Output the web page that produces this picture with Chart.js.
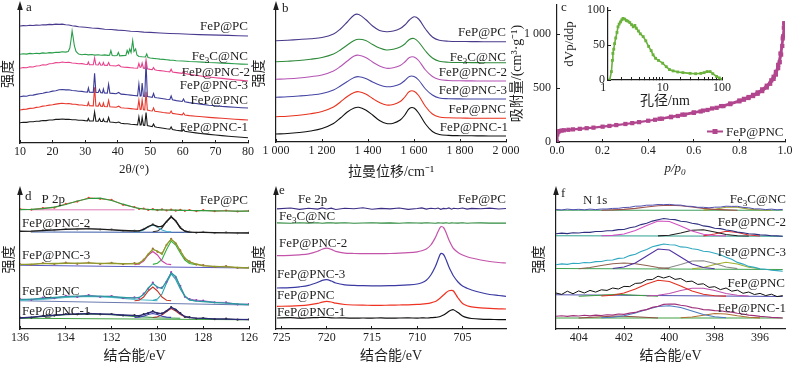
<!DOCTYPE html>
<html>
<head>
<meta charset="utf-8">
<script src="https://cdn.jsdelivr.net/npm/chart.js@4.4.1/dist/chart.umd.min.js"></script>
<style>
  body { margin: 0; background: #fff; width: 800px; height: 366px; position: relative; overflow: hidden; }
  canvas { position: absolute; }
</style>
</head>
<body>
<canvas id="ca"></canvas>
<canvas id="cb"></canvas>
<canvas id="cc"></canvas>
<canvas id="ci"></canvas>
<canvas id="cd"></canvas>
<canvas id="ce"></canvas>
<canvas id="cf"></canvas>
<script>
// ---------- a: XRD (2theta, stacked intensity) ----------
const xrdTicks = [10, 20, 30, 40, 50, 60, 70, 80];
const xrdPC = [[10,117],[11,117.4],[12,117.2],[13,117.7],[14,117.5],[15,117.9],[16,117.8],[17,118.3],[18,118.1],[19,118.6],[20,118.4],[21,118.9],[22,118.6],[23,118.9],[24,118.3],[25,118],[26,117.2],[27,116.9],[28,116.2],[30,115.8],[32,115],[34,114.6],[36,113.8],[38,113.5],[40,112.9],[42,112.5],[44,111.8],[46,111.5],[48,110.9],[50,110.6],[53,110],[56,109.5],[59,109.2],[62,108.7],[65,108.4],[68,108.1],[71,107.9],[74,107.6],[77,107.3],[80,107]];
const xrdFe3C = [[10,88.7],[11,89.3],[12,88.9],[13,89.6],[14,89.2],[15,89.8],[16,89.4],[17,90.1],[18,89.7],[19,90.4],[20,90.1],[21,90.8],[22,90.6],[23,91.3],[24,90.9],[24.8,91.5],[25.3,95],[25.7,104],[26,112],[26.3,106],[26.7,97],[27.2,91.5],[28,88.9],[29,88.3],[30,88.7],[31,88.1],[32,88.5],[33,87.9],[34,88.3],[35,87.8],[36,88.1],[37,87.6],[37.5,87.8],[37.9,92.5],[38.3,87.5],[39,87.3],[39.8,87.5],[40.2,90.5],[40.6,87.2],[41.5,87.4],[42.5,87.5],[42.9,92.5],[43.3,89.5],[43.7,94],[44.1,90.5],[44.6,102.5],[45.0,91.5],[45.5,94],[45.9,88],[46.5,86.5],[47.5,86.2],[48.5,86],[48.9,89],[49.3,85.5],[50,85],[51,84.6],[52,84.3],[53,83.9],[54,83.6],[55,83.3],[56,82.9],[57,82.7],[58,82.3],[60,82],[62,81.5],[64,81.2],[66,80.9],[68,80.5],[70,80.3],[72,79.9],[74,79.6],[76,79.2],[78,78.9],[80,78.7]];
const xrdPNC2 = [[10,74.7],[11,75.5],[12,75.2],[13,76.3],[14,76],[15,77],[16,77.2],[17,78.3],[18,78],[19,79.2],[20,79.5],[21,80.4],[22,80.3],[23,81],[24,80.5],[25,80.8],[26,80],[27,79.8],[28,79.2],[29,79.4],[30,78.8],[30.7,78.5],[31,81],[31.3,78.4],[32.5,78.2],[32.9,85],[33.3,78.2],[34,78],[34.4,80.5],[34.8,77.8],[35.3,78],[35.6,80.5],[35.9,77.8],[36.8,77.6],[37.2,80.5],[37.6,77.5],[38.5,77.3],[39.5,77],[40.3,78],[41,76.2],[42,75.8],[43,75.6],[44,75.3],[45,75],[46.1,74.8],[46.5,79.5],[46.9,75.5],[47.2,76],[47.5,80],[47.9,74.8],[48.3,74.6],[48.7,83],[49.1,74.3],[50,73.6],[50.6,73.4],[51,75.5],[51.4,73.2],[52,72.8],[53,72.4],[54,72],[55,71.5],[56,71.2],[56.4,73.8],[56.8,71],[58,70.4],[59.8,69.6],[60.2,71.8],[60.6,69.4],[62,68.6],[64,67.7],[66,66.8],[68,66],[70,65.3],[72,64.6],[74,63.9],[76,63.2],[78,62.6],[80,62]];
const xrdPNC3 = [[10,46.3],[11,46.9],[12,46.8],[13,47.7],[14,47.9],[15,48.6],[16,49.3],[17,49.8],[18,50.6],[19,51],[20,51.9],[21,52.3],[22,53.2],[23,53.5],[24,53.1],[25,53.2],[26,52.5],[27,52.3],[28,51.7],[29,51.6],[30,51],[30.7,50.9],[31,55],[31.3,50.8],[32.5,50.6],[32.9,69.7],[33.3,50.6],[34,50.5],[34.4,53.5],[34.8,50.3],[35.3,50.2],[35.6,54],[35.9,50.1],[36.8,49.9],[37.2,58.7],[37.6,49.8],[38.5,49.6],[39.5,49.2],[40.3,50.5],[41,48.9],[42,48.6],[43,48.3],[44,47.9],[45,47.5],[46.1,47.1],[46.5,59],[46.9,47],[47.2,47.2],[47.5,60],[47.9,46.8],[48.3,46.6],[48.7,81],[49.1,46.4],[50,46],[50.6,45.7],[51,49.5],[51.4,45.5],[52,45.2],[53,44.8],[54,44.3],[55,43.8],[56,43.5],[56.4,47],[56.8,43.2],[58,42.4],[59.8,41.5],[60.2,44],[60.6,41.2],[62,40.4],[64,39.5],[66,38.6],[68,37.8],[70,37.3],[72,36.6],[74,36.1],[76,35.7],[78,35.3],[80,35]];
const xrdPNC = [[10,33],[11,33.6],[12,33.9],[13,34.6],[14,34.8],[15,35.6],[16,36],[17,36.9],[18,37.2],[19,37.9],[20,38.3],[21,38.9],[22,39.4],[23,39.7],[24,39.3],[25,39.5],[26,38.9],[27,38.7],[28,38.1],[29,38],[30,37.5],[30.7,37.3],[31,40.5],[31.3,37.2],[32.5,37.1],[32.9,55.7],[33.3,37],[34,36.9],[34.4,40],[34.8,36.7],[35.3,36.6],[35.6,40],[35.9,36.5],[36.8,36.3],[37.2,42.5],[37.6,36.2],[38.5,36],[39.5,35.7],[40.3,36.8],[41,35.3],[42,35],[43,34.8],[44,34.4],[45,34],[46.1,33.6],[46.5,43],[46.9,33.4],[47.2,33.6],[47.5,43],[47.9,33.2],[48.3,33.1],[48.7,51.3],[49.1,32.9],[50,32.3],[50.6,32],[51,35],[51.4,31.8],[52,31.5],[53,31],[54,30.5],[55,30.1],[56,29.8],[56.4,32],[56.8,29.6],[58,29],[59.8,28.2],[60.2,30],[60.6,28],[62,27.4],[64,26.8],[66,26.2],[68,25.6],[70,25.1],[72,24.7],[74,24.2],[76,23.8],[78,23.4],[80,23]];
const xrdPNC1 = [[10,20.3],[11,20.8],[12,20.6],[13,21.3],[14,21.2],[15,21.7],[16,21.9],[17,22.5],[18,22.4],[19,23],[20,23],[21,23.6],[22,23.6],[23,24],[24,23.6],[25,23.8],[26,23.3],[27,23.2],[28,22.8],[29,22.8],[30,22.4],[30.7,22.2],[31,24.5],[31.3,22.1],[32.5,22],[32.9,31],[33.3,21.9],[34,21.8],[34.4,24.5],[34.8,21.6],[35.3,21.5],[35.6,24],[35.9,21.4],[36.8,21.1],[37.2,25.5],[37.6,21],[38.5,20.7],[39.5,20.3],[40.3,21],[41,19.7],[42,19.4],[43,19.2],[44,18.8],[45,18.5],[46.1,18.1],[46.5,26],[46.9,18],[47.2,18.2],[47.5,25.5],[47.9,17.8],[48.3,17.6],[48.7,30.5],[49.1,17.4],[50,16.8],[50.6,16.4],[51,19],[51.4,16.2],[52,15.8],[53,15.3],[54,14.8],[55,14.2],[56,13.8],[56.4,16],[56.8,13.5],[58,12.8],[59.8,11.9],[60.2,13.5],[60.6,11.7],[62,11],[64,10.1],[66,9.3],[68,8.6],[70,8],[72,7.4],[74,6.8],[76,6.3],[78,5.8],[80,5.3]];

// ---------- b: Raman ----------
const ramanTicks = [1000, 1200, 1400, 1600, 1800, 2000];
const ramanLabels = ['1 000', '1 200', '1 400', '1 600', '1 800', '2 000'];
const ramanShift = [1000,1050,1100,1150,1200,1250,1280,1310,1340,1360,1390,1420,1450,1480,1510,1540,1560,1580,1600,1620,1650,1680,1710,1750,1800,1850,1900,1950,2000];
const ramanPC = [101.3,101.8,102.5,103.3,104.5,108,113,120,127,127.5,122.5,116,111.5,110.3,111,113.5,117,122,125.3,123,113,105,101.8,100.8,100.5,100.4,100.3,100.3,100.3];
const ramanFe3C = [80.3,80.8,81.5,82.8,84.5,88,92,97,101.5,102.7,101.5,97.5,94,92,92.8,95,98,102.5,103.5,100,91,84,80.8,79.8,79.5,79.4,79.3,79.3,79.3];
const ramanPNC2 = [62.7,63.2,64,65.3,67,71,75.5,81,86,86.8,84.5,80,76,73.7,74.2,76.5,80,84.5,85,81.5,72,65.5,62.5,61.5,61.2,61.1,61,61,61];
const ramanPNC3 = [44.7,45.2,46,47,48.5,52,56,60.5,64.5,65.3,63.5,60,57,55.3,55.8,58,61.5,65.5,65.5,62,53,47,44,43.3,43.1,43,43,43,43];
const ramanPNC = [25.3,25.8,26.8,28.3,30.5,35,40,45.5,49.5,50.3,48,43.5,39.5,37,37.5,40.5,45,50.5,50.8,46.5,35.5,28,25,24.2,24,23.8,23.7,23.7,23.7];
const ramanPNC1 = [8,8.5,9.5,11,13.5,18.5,24,30,34,34.7,32,27,21.5,18.5,18.8,22,27,33.5,34,29,18,10.5,7.5,6.6,6.3,6.2,6.1,6,6];

// ---------- c: N2 isotherm + pore size inset ----------
const isoTicks = [0, 0.2, 0.4, 0.6, 0.8, 1.0];
const isoLabels = ['0.0', '0.2', '0.4', '0.6', '0.8', '1.0'];
const isoYTicks = [0, 500, 1000];
const isoYLabels = ['0', '500', '1 000'];
const isoAds = [[0,0],[0.001,70],[0.003,90],[0.006,97],[0.01,101],[0.02,106],[0.03,109],[0.05,113],[0.07,117],[0.1,122],[0.13,128],[0.16,133],[0.2,142],[0.23,149],[0.26,157],[0.3,167],[0.33,175],[0.36,184],[0.4,197],[0.43,206],[0.46,216],[0.5,230],[0.53,241],[0.56,253],[0.6,270],[0.63,283],[0.66,297],[0.7,317],[0.73,333],[0.76,351],[0.8,377],[0.82,392],[0.84,408],[0.86,426],[0.88,447],[0.9,472],[0.92,505],[0.935,540],[0.95,585],[0.96,625],[0.97,685],[0.977,740],[0.983,810],[0.988,890],[0.992,980],[0.995,1060],[0.997,1100]];
const isoDes = [[0.997,1100],[0.99,960],[0.98,820],[0.97,715],[0.96,650],[0.95,605],[0.94,572],[0.92,522],[0.9,488],[0.88,460],[0.86,437],[0.84,417],[0.82,400],[0.8,385],[0.76,357],[0.72,333],[0.68,311],[0.64,291],[0.6,274],[0.55,254],[0.5,234],[0.45,215]];
const poreTicks = [1,2,3,4,5,6,7,8,9,10,20,30,40,50,60,70,80,90,100];
const poreLabels = ['1','','','','','','','','','10','','','','','','','','','100'];
const poreYTicks = [0, 50, 100];
const poreYLabels = ['0', '50', '100'];
const poreDist = [[1.28,0],[1.37,12],[1.42,28],[1.45,38],[1.5,44],[1.55,52],[1.62,60],[1.7,68],[1.77,76],[1.85,80],[1.95,83],[2.05,86],[2.15,88],[2.3,87],[2.45,85],[2.6,84],[2.8,82],[3.0,79],[3.2,76],[3.4,78],[3.6,74],[3.9,70],[4.2,66],[4.7,62],[5.2,56],[5.8,48],[6.4,42],[6.9,36],[7.6,31],[8.5,28],[10,24],[11.5,19],[13,15],[15,13],[18,11.5],[22,10.5],[29,9.5],[36,9],[44,9.5],[50,10.5],[56,12],[63,12],[70,9],[81,5],[90,3],[100,1]];

// ---------- d: P 2p XPS ----------
const pTicks = [136, 134, 132, 130, 128, 126];
const bindP = [136,135.5,135,134.5,134,133.5,133,132.5,132,131.5,131,130.8,130.6,130.4,130.2,130,129.8,129.6,129.4,129.2,129,128.8,128.6,128.3,128,127.5,127,126.5,126];
const p2pPCfit = [119.4,119.7,120.3,121.8,124.5,128,130.5,130.8,128.5,124.8,121.5,120.6,120,119.6,119.4,119.2,119.1,119,118.9,118.8,118.7,118.6,118.5,118.4,118.3,118.2,118,117.9,117.8];
const p2pPCraw = [119.9,119.3,120.9,121.3,125.2,127.4,131.2,130.2,129.1,124.2,121.9,120.1,120.5,119.1,119.9,118.8,119.6,118.6,119.4,118.3,119.2,118.2,119,117.9,118.8,117.8,118.5,117.5,118.2];
const p2pPCbase = [[135.5,119.2],[131,119.2]];
const p2pPNC2fit = [97.7,97.9,98.4,99.1,99.7,100.1,100.2,99.9,99.2,98.5,98,98.2,99.6,102.5,104.4,102.6,102.4,107.5,112.3,108.2,101.3,97.8,96.9,96.7,96.6,96.4,96.2,96.1,96];
const p2pPNC2raw = [98.2,97.4,98.9,98.6,100.2,99.5,100.8,99.4,99.7,98,98.5,97.8,100.1,102,104.9,102.1,103,107,112.9,107.6,101.9,97.3,97.5,96.2,97.1,95.9,96.7,95.7,96.4];
const p2pPNC2c1 = [[131,97.1],[130.8,97.5],[130.6,99.1],[130.4,102],[130.2,104],[130,102],[129.8,99.1],[129.6,97.5],[129.4,97.1]];
const p2pPNC2c2 = [[130.2,97.2],[130,97.9],[129.8,101],[129.6,107.5],[129.4,112],[129.2,108],[129,101],[128.8,97.9],[128.6,97.2]];
const p2pPNC2base = [[135.5,97],[128.5,96.6]];
const p2pPNC3fit = [64.3,64.8,65.3,65.5,65.6,65.8,65.8,65.7,65.5,65.3,65.2,65.9,68.9,75,79.5,78,74.8,84.5,89.5,86,78,71,67,65,63.2,62.7,62.2,61.6,61];
const p2pPNC3raw = [64.8,64.2,65.9,65,66.3,65.2,66.4,65.1,66.1,64.8,65.8,65.4,69.5,74.4,80.3,77.2,75.6,84,90.2,85.4,78.7,70.5,67.6,64.4,63.9,62.1,62.8,61.1,61.5];
const p2pPNC3c1 = [[131,64.4],[130.8,65],[130.6,68],[130.4,74],[130.2,77.5],[130,74],[129.8,68],[129.6,65],[129.4,64.4]];
const p2pPNC3c2 = [[130.2,64.6],[130,65.8],[129.8,69.5],[129.6,79.5],[129.4,88],[129.2,84],[129,76],[128.8,69],[128.6,65.5],[128.3,64.2]];
const p2pPNC3base = [[136,63.8],[126,61]];
const p2pPNCfit = [29.3,29.9,30.6,31.5,32.3,32.8,33,32.8,32.3,31.5,30.8,31.5,34.5,41,45.5,42,40.5,48,56,52.5,42,33,29,27.8,27.5,26.5,25.8,25,24.3];
const p2pPNCraw = [29.9,29.2,31.4,30.8,33.1,32.1,33.9,32.2,33,30.9,31.6,30.9,35.3,40.2,46.4,41.3,41.4,47.2,56.8,51.7,43.1,32.2,30,28.8,28.3,26.7,26.6,24.6,25];
const p2pPNCc1 = [[131,28.2],[130.8,28.8],[130.6,32],[130.4,38],[130.2,42],[130,38],[129.8,32],[129.6,28.8],[129.4,28.2]];
const p2pPNCc2 = [[130.2,28.5],[130,30],[129.8,35],[129.6,46],[129.4,55],[129.2,49.5],[129,40],[128.8,32.5],[128.6,29],[128.3,28]];
const p2pPNChump = [[136,28.6],[135,29.6],[134,31.5],[133,32.6],[132,31.6],[131,29.5],[130,28.4]];
const p2pPNCbase = [[136,28.2],[126,24]];
const p2pPNC1fit = [11,11.8,12.8,13.8,14.6,15.1,15.3,15.1,14.6,14,13.4,13.4,14.3,16.2,17.3,16,15.2,18.3,21.5,19.7,15.5,12.5,11.4,10.9,10.6,10.2,9.9,9.6,9.3];
const p2pPNC1raw = [11.4,11.3,13.2,13.4,15,14.7,15.8,14.7,15,13.5,13.8,13,14.8,15.8,17.8,15.6,15.6,17.9,22,19.2,16,12.1,11.8,10.5,11,9.8,10.3,9.3,9.7];
const p2pPNC1c1 = [[131,11.6],[130.8,11.9],[130.6,12.8],[130.4,14.5],[130.2,15.5],[130,14.5],[129.8,12.8],[129.6,11.9],[129.4,11.6]];
const p2pPNC1c2 = [[130.2,11.5],[130,12.2],[129.8,14],[129.6,17.5],[129.4,20.5],[129.2,18],[129,14.5],[128.8,12.3],[128.6,11.4]];
const p2pPNC1hump = [[136,10.8],[135,12.5],[134,14.2],[133,15],[132,14.3],[131,12.6],[130,11.3],[129,10.8]];
const p2pPNC1base = [[136,10.8],[126,9.2]];

// ---------- e: Fe 2p XPS ----------
const feTicks = [725, 720, 715, 710, 705];
const bindFe = [725.5,724,723,722,721,720.5,720,719.5,719,718,717,716,715,714,713,712,711,710,709.5,709,708.5,708,707.7,707.4,707.1,706.8,706.5,706.2,706,705.5,705,704.5,704,703,702,701,700.2];
const fe2pPC = [120.1,121,119.6,120.8,119.9,121.1,120,120.9,119.5,120.7,120.2,121.2,119.8,120.6,120.1,121,119.6,120.5,121.1,119.9,120.8,120.3,121,119.7,120.6,120.2,121.1,119.8,120.7,120.3,121,119.9,120.6,120.2,120.9,120,120.5];
const fe2pFe3C = [106.1,105.8,106.3,105.9,106.2,105.8,106.1,106.3,105.9,106.2,105.8,106,106.3,105.9,106.1,105.8,106.2,106,105.9,106.3,106,105.8,106.1,106,105.9,106.2,105.8,106.1,106,105.9,106.2,105.8,106,106.1,105.9,106,105.9];
const fe2pPNC2 = [73.3,73.6,74.2,75.2,77.8,79.8,80.8,79.6,77.6,75.9,75.5,75.4,75.3,75.3,75.5,75.8,76.3,77.2,78.2,80,84,91.5,97.5,102.3,101.5,96,89,83.5,80.5,76.5,74,72.3,71,69,67.5,66.5,66];
const fe2pPNC3 = [41,41.4,42.2,43.6,46.6,48.6,49.3,48,46,44.2,43.6,43.3,43.2,43.2,43.3,43.6,44.1,45,46.3,48.8,54,62.5,69.5,75.5,74.5,69,62,56.5,53,47,43,40.8,39,36.5,34.5,33.5,32.7];
const fe2pPNC = [22.7,22.9,23.3,24.1,25.6,26.9,27.6,27,25.8,24.5,24,23.8,23.7,23.7,23.8,24,24.2,24.6,24.9,25.4,26.2,27.5,29.3,31.5,34,36.5,38.2,38.7,38,31,25.5,23.3,22.2,21.2,20.6,20.2,20];
const fe2pPNC1 = [11,11.3,10.8,11.2,11.4,11.6,11.5,11.2,11,11.1,10.8,11,10.9,11.1,10.8,11,11.1,10.9,11.1,11,11.3,11.6,12,12.8,14,15.8,17.8,19,19.3,16.5,13,11.3,10.5,9.9,9.6,9.4,9.3];

// ---------- f: N 1s XPS ----------
const nTicks = [404, 402, 400, 398, 396];
const bindN = [405,404.75,404.5,404.25,404,403.75,403.5,403.25,403,402.75,402.5,402.25,402,401.75,401.5,401.25,401,400.75,400.5,400.25,400,399.75,399.5,399.25,399,398.75,398.5,398.25,398,397.75,397.5,397.25,397,396.75,396.5,396.25,396,395.75,395.5,395.25,395];
const n1sFe3C = [119.5,119.1,119.9,119.3,119.7,119.2,119.9,119.4,120,120,120.6,120.7,121.5,121.7,122.8,122.9,123.8,123.8,124.5,124.3,124.6,124,123.9,122.8,122.6,121.7,121.7,121.2,121.8,121.9,122.8,122.6,122.7,121.6,121.2,120.1,120.1,119.4,119.9,119.2,119.6];
const n1sPNC2 = [95.3,95.9,95.4,96.3,96,96.8,96.6,97.5,97.5,98.3,98.4,99.4,99.5,101.3,102.3,104.4,105.8,107.9,109.3,110.5,109.7,109.4,107.8,107.3,105.8,104.9,103.1,102.4,100.8,100.4,99,98.3,96.9,96.3,95.2,94.9,94.1,93.9,93.2,93.1,92.7];
const n1sPNC3 = [64.3,65.1,64.6,65.7,65.5,66.5,66.3,67.4,67.5,68.8,69,70.6,71,73.4,74.8,77.6,79.6,82.2,83.6,85,84.2,84,82.1,81.7,80.3,79.5,77.8,77.2,75.7,74.3,71.8,69.7,66.6,64.9,62.6,61.6,60.1,59.7,58.8,58.4,57.7];
const n1sPNC = [36,34.6,37.8,35.2,38.1,36,38.6,36.9,39.2,38.6,41,40,42.6,42.4,45.6,46,49.2,49.5,52.8,51,52.7,49.6,50.5,47.3,47.9,44.6,45.2,41.6,42.3,39.4,41,37.8,38.9,35.7,37,34.5,35.6,33.4,34.8,32.4,33.4];
const n1sPNC1 = [12.7,13.3,12.6,13.4,13,13.7,13.1,13.9,13.5,14.3,13.9,15,14.6,15.9,16.6,18.4,19.4,21.6,22.8,24.6,25,24.9,23.8,23,21.4,20.7,19.4,19.1,18.4,18.2,17.3,16.9,15.8,15,13.9,13.4,12.6,12.3,11.6,11.4,11];
const n1sFe3Cc1 = [[403,118.8],[402.5,119.1],[402,119.6],[401.5,120.6],[401,122],[400.5,123.3],[400,123.8],[399.5,123.3],[399,122],[398.5,120.6],[398,119.6],[397.5,119.1],[397,118.8]];
const n1sFe3Cc2 = [[398.5,118.9],[398,119.8],[397.5,121.7],[397,121.8],[396.5,119.9],[396,119],[395.5,118.8]];
const n1sFe3Cbase = [[405,118.8],[395,118.8]];
const n1sPNC2c1 = [[403,93.2],[402.5,93.6],[402,95],[401.5,98.5],[401,103.5],[400.5,108],[400,107.5],[399.5,103],[399,98],[398.5,94.8],[398,93.5],[397.5,93.1]];
const n1sPNC2c2 = [[400.5,93.1],[400,93.8],[399.5,96],[399,98.7],[398.5,99.2],[398,97],[397.5,94.5],[397,93.3],[396.5,93]];
const n1sPNC2c3 = [[398.5,93.1],[398,95],[397.5,97.7],[397,96.5],[396.5,94],[396,93]];
const n1sPNC2base = [[405,93.2],[395,92.8]];
const n1sPNC3c1 = [[402.5,60.5],[402,62],[401.5,66],[401,73],[400.5,80],[400,79],[399.5,72],[399,65],[398.5,61.5],[398,60.2]];
const n1sPNC3c2 = [[404,60.3],[403.5,61.5],[403,63.5],[402.5,65.3],[402,66],[401.5,65.3],[401,63.5],[400.5,61.5],[400,60.3]];
const n1sPNC3c3 = [[400.5,60.3],[400,61.5],[399.5,64.5],[399,68],[398.5,68.3],[398,65.5],[397.5,62],[397,60.4]];
const n1sPNC3c4 = [[399,60.2],[398.5,61.5],[398,64.5],[397.5,66.7],[397,65],[396.5,61.8],[396,60.3]];
const n1sPNC3base = [[405,60.5],[395,59.5]];
const n1sPNCc1 = [[403,33],[402.5,33.8],[402,36],[401.5,40],[401,45],[400.5,48.7],[400,47.5],[399.5,43],[399,38],[398.5,34.8],[398,33.3],[397.5,32.9]];
const n1sPNCc2 = [[401,33],[400.5,33.8],[400,35.5],[399.5,38.5],[399,40.8],[398.5,40.7],[398,38.5],[397.5,35.5],[397,33.7],[396.5,33]];
const n1sPNCc3 = [[404,32.8],[403,33.8],[402.3,34.8],[401.5,33.8],[400.5,32.8]];
const n1sPNCbase = [[405,34.3],[395,32.5]];
const n1sPNC1c1 = [[403,11.2],[402.5,11.8],[402,13.2],[401.5,16],[401,19.5],[400.5,22.5],[400,23.3],[399.5,21.5],[399,18],[398.5,14.5],[398,12.3],[397.5,11.3]];
const n1sPNC1c2 = [[399.5,11.2],[399,12],[398.5,13.8],[398,15.5],[397.5,15],[397,13.2],[396.5,11.8],[396,11.1]];
const n1sPNC1c3 = [[404,11],[403,12.2],[402.3,13],[401.5,12.2],[400.5,11]];
const n1sPNC1base = [[405,11],[395,11]];

// ---------- helpers ----------
const SERIF = "'Liberation Serif', 'Times New Roman', serif";
const CJK = "'Liberation Serif', 'Noto Sans CJK SC', serif";
const INK = '#1e1e1e';

const pairs = list => list.map(p => ({x: p[0], y: p[1]}));
const zip = (xs, ys) => xs.map((x, i) => ({x, y: ys[i]}));

function ln(data, color, w, extra) {
  return Object.assign({data, borderColor: color, backgroundColor: color, borderWidth: w || 1.1,
    pointRadius: 0, tension: 0, fill: false}, extra || {});
}
function dotted(data, color) {
  return ln(data, color, 0.8, {pointRadius: 1.1, pointBorderWidth: 0, pointBackgroundColor: color});
}

// text with _{sub} segments, positioned in page pixels
function richText(ctx, t, box) {
  const size = t.size || 13;
  const style = t.italic ? 'italic ' : '';
  const parts = t.text.split(/_\{([^}]*)\}/);
  const font = s => style + s + 'px ' + SERIF;
  let w = 0;
  parts.forEach((p, i) => { ctx.font = font(i % 2 ? size * 0.7 : size); w += ctx.measureText(p).width; });
  let x = t.x - box.left;
  if (t.align === 'right') x -= w; else if (t.align === 'center') x -= w / 2;
  const base = t.y - box.top + size * 0.34;
  ctx.textAlign = 'left';
  ctx.textBaseline = 'alphabetic';
  parts.forEach((p, i) => {
    const sub = i % 2 === 1;
    ctx.font = font(sub ? size * 0.7 : size);
    ctx.fillText(p, x, base + (sub ? size * 0.22 : 0));
    x += ctx.measureText(p).width;
  });
}

const panelText = {
  id: 'panelText',
  afterDraw(chart, args, o) {
    const ctx = chart.ctx, a = chart.chartArea;
    ctx.save();
    ctx.fillStyle = INK;
    if (o.arrow) {
      ctx.beginPath();
      ctx.moveTo(a.left, a.top - 4);
      ctx.lineTo(a.left - 2.8, a.top + 5);
      ctx.lineTo(a.left + 2.8, a.top + 5);
      ctx.closePath();
      ctx.fill();
    }
    (o.items || []).forEach(t => richText(ctx, t, o.box));
    const lg = o.legendItem;
    if (lg) {
      const x = lg.x - o.box.left, y = lg.y - o.box.top;
      ctx.strokeStyle = lg.color; ctx.lineWidth = 2;
      ctx.beginPath(); ctx.moveTo(x, y); ctx.lineTo(x + lg.w, y); ctx.stroke();
      ctx.fillStyle = lg.color;
      ctx.fillRect(x + lg.w / 2 - 2.5, y - 2.5, 5, 5);
      ctx.fillStyle = INK;
      richText(ctx, {text: lg.text, x: lg.x + lg.w + 3, y: lg.y, size: 13}, o.box);
    }
    ctx.restore();
  }
};

function panel(id, box, area, s) {
  const cv = document.getElementById(id);
  cv.width = box.w; cv.height = box.h;
  cv.style.left = box.left + 'px';
  cv.style.top = box.top + 'px';
  const tickFont = {family: SERIF, size: 12};
  const hasY = !!s.yTicks;
  return new Chart(cv, {
    type: 'line',
    data: {datasets: s.datasets},
    options: {
      responsive: false, animation: false, devicePixelRatio: 1,
      layout: {padding: {left: 0, bottom: 0, top: area.top - box.top, right: box.left + box.w - area.right}},
      plugins: {
        legend: {display: false}, tooltip: {enabled: false},
        panelText: {box, items: s.texts, arrow: s.arrow, legendItem: s.legendItem}
      },
      scales: {
        x: {
          type: s.xType || 'linear', min: s.xMin, max: s.xMax, reverse: !!s.reverse,
          afterFit: sc => { sc.height = box.top + box.h - area.bottom; sc.paddingLeft = 0; sc.paddingRight = 0; },
          afterBuildTicks: sc => { sc.ticks = s.xTicks.map(v => ({value: v})); },
          ticks: {font: tickFont, color: INK, padding: s.xTickPad || 5, maxRotation: 0, autoSkip: false,
                  callback: (v, i) => s.xLabels ? s.xLabels[i] : String(v)},
          grid: {drawOnChartArea: false, tickLength: -3, lineWidth: 1,
                 color: c => (c.tick && s.xHideBelow && c.tick.value < s.xHideBelow) ? 'rgba(0,0,0,0)' : INK},
          border: {color: INK, width: 1.2},
          title: {display: !!s.xTitle, text: s.xTitle, color: INK,
                  font: s.xTitleFont || {family: CJK, size: 14}, padding: {top: 0, bottom: s.xTitlePad}}
        },
        y: {
          type: 'linear', min: s.yMin || 0, max: s.yMax != null ? s.yMax : area.bottom - area.top,
          afterFit: sc => { sc.width = area.left - box.left; sc.paddingTop = 0; sc.paddingBottom = 0; },
          afterBuildTicks: hasY ? sc => { sc.ticks = s.yTicks.map(v => ({value: v})); } : undefined,
          ticks: hasY ? {font: tickFont, color: INK, padding: s.yTickPad, callback: (v, i) => s.yLabels[i]} : {display: false},
          grid: hasY ? {drawOnChartArea: false, tickLength: -3, color: INK} : {display: false},
          border: {color: INK, width: 1.2},
          title: {display: true, text: s.yTitle, color: INK,
                  font: s.yTitleFont || {family: CJK, size: 14}, padding: {top: s.yTitlePad, bottom: 0}}
        }
      }
    },
    plugins: [panelText]
  });
}

// ---------- panel a ----------
panel('ca', {left: 0, top: 0, w: 262, h: 183}, {left: 20, top: 5, right: 248, bottom: 143}, {
  xMin: 10, xMax: 80, xTicks: xrdTicks,
  xTitle: '2θ/(°)', xTitleFont: {family: SERIF, size: 13}, xTitlePad: 5.2,
  yTitle: '强度', yTitlePad: 0.2, arrow: true,
  datasets: [
    ln(pairs(xrdPC), '#4b3b8f'), ln(pairs(xrdFe3C), '#2a9d4a'), ln(pairs(xrdPNC2), '#e8418c'),
    ln(pairs(xrdPNC3), '#3c3c98'), ln(pairs(xrdPNC), '#e8392e'), ln(pairs(xrdPNC1), '#1a1a1a')
  ],
  texts: [
    {text: 'a', x: 26, y: 6.5},
    {text: 'FeP@PC', x: 248, y: 26, align: 'right'},
    {text: 'Fe_{3}C@NC', x: 248, y: 55.5, align: 'right'},
    {text: 'FeP@PNC-2', x: 250, y: 72, align: 'right'},
    {text: 'FeP@PNC-3', x: 248, y: 85, align: 'right'},
    {text: 'FeP@PNC', x: 248, y: 100, align: 'right'},
    {text: 'FeP@PNC-1', x: 248, y: 126.5, align: 'right'}
  ]
});

// ---------- panel b ----------
panel('cb', {left: 250, top: 0, w: 276, h: 183}, {left: 276, top: 5, right: 506, bottom: 142}, {
  xMin: 1000, xMax: 2000, xTicks: ramanTicks, xLabels: ramanLabels,
  xTitle: '拉曼位移/cm⁻¹', xTitlePad: 2.3,
  yTitle: '强度', yTitlePad: 0.6, arrow: true,
  datasets: [
    ln(zip(ramanShift, ramanPC), '#4a3a8a', 1.1, {tension: 0.35}),
    ln(zip(ramanShift, ramanFe3C), '#2e8a3a', 1.1, {tension: 0.35}),
    ln(zip(ramanShift, ramanPNC2), '#b455b4', 1.1, {tension: 0.35}),
    ln(zip(ramanShift, ramanPNC3), '#4646a6', 1.1, {tension: 0.35}),
    ln(zip(ramanShift, ramanPNC), '#e8321e', 1.1, {tension: 0.35}),
    ln(zip(ramanShift, ramanPNC1), '#111111', 1.1, {tension: 0.35})
  ],
  texts: [
    {text: 'b', x: 282, y: 8},
    {text: 'FeP@PC', x: 506, y: 31.5, align: 'right'},
    {text: 'Fe_{3}C@NC', x: 506, y: 56.5, align: 'right'},
    {text: 'FeP@PNC-2', x: 507, y: 71.5, align: 'right'},
    {text: 'FeP@PNC-3', x: 507, y: 90, align: 'right'},
    {text: 'FeP@PNC', x: 506, y: 109, align: 'right'},
    {text: 'FeP@PNC-1', x: 508, y: 127, align: 'right'}
  ]
});

// ---------- panel c ----------
panel('cc', {left: 505, top: 0, w: 295, h: 183}, {left: 557, top: 5, right: 785, bottom: 142}, {
  xMin: 0, xMax: 1, xTicks: isoTicks, xLabels: isoLabels,
  yMin: 0, yMax: 1270, yTicks: isoYTicks, yLabels: isoYLabels, yTickPad: 9,
  yTitle: '吸附量/(cm³·g⁻¹)', yTitlePad: 3.6,
  datasets: [
    ln(pairs(isoAds), '#b2468e', 2.2, {pointStyle: 'rect', pointRadius: 3, pointBorderWidth: 0, pointBackgroundColor: '#b2468e'}),
    ln(pairs(isoDes), '#b2468e', 2.2, {pointStyle: 'rect', pointRadius: 3, pointBorderWidth: 0, pointBackgroundColor: '#b2468e'})
  ],
  texts: [
    {text: 'c', x: 561, y: 7},
    {text: 'p/p_{0}', x: 675, y: 168, align: 'center', italic: true}
  ],
  legendItem: {x: 707, y: 131.5, w: 16, color: '#b2468e', text: 'FeP@PNC'}
});

// inset: pore size distribution
panel('ci', {left: 560, top: 0, w: 180, h: 112}, {left: 608, top: 8, right: 722, bottom: 80}, {
  xType: 'logarithmic', xMin: 1.2, xMax: 100, xTicks: poreTicks, xLabels: poreLabels, xHideBelow: 1.2,
  xTickPad: 3.3, xTitle: '孔径/nm', xTitlePad: 2.6,
  yMin: 0, yMax: 102.9, yTicks: poreYTicks, yLabels: poreYLabels, yTickPad: 6,
  yTitle: 'dVp/ddp', yTitleFont: {family: SERIF, size: 13}, yTitlePad: 2.2,
  datasets: [
    ln(pairs(poreDist), '#6ab23c', 1.6, {pointStyle: 'rect', pointRadius: 2, pointBorderWidth: 0, pointBackgroundColor: '#6ab23c'})
  ],
  texts: []
});

// ---------- panel d ----------
panel('cd', {left: 0, top: 183, w: 262, h: 183}, {left: 20, top: 190, right: 249, bottom: 329}, {
  xMin: 126, xMax: 136, reverse: true, xTicks: pTicks,
  xTitle: '结合能/eV', xTitlePad: 1.6, xTickPad: 4.8,
  yTitle: '强度', yTitlePad: 0.8, arrow: true,
  datasets: [
    ln(zip(bindP, p2pPCfit), '#2e9a3e', 1.2), dotted(zip(bindP, p2pPCraw), '#e8402a'), ln(pairs(p2pPCbase), '#e07ab8', 1),
    ln(zip(bindP, p2pPNC2fit), '#1a1a1a', 1.3), dotted(zip(bindP, p2pPNC2raw), '#8c8c8c'),
    ln(pairs(p2pPNC2c1), '#3fb0d0'), ln(pairs(p2pPNC2c2), '#333333'), ln(pairs(p2pPNC2base), '#4a6ab0'),
    ln(zip(bindP, p2pPNC3fit), '#8f9a2a', 1.3), dotted(zip(bindP, p2pPNC3raw), '#a0703a'),
    ln(pairs(p2pPNC3c1), '#d040a8'), ln(pairs(p2pPNC3c2), '#2fb040'), ln(pairs(p2pPNC3base), '#5a5ac0'),
    ln(zip(bindP, p2pPNCfit), '#2a9aa0', 1.3), dotted(zip(bindP, p2pPNCraw), '#9a40b8'),
    ln(pairs(p2pPNCc1), '#c0392a'), ln(pairs(p2pPNCc2), '#2aa0b0'), ln(pairs(p2pPNChump), '#5cc0d0'), ln(pairs(p2pPNCbase), '#6a7ab0'),
    ln(zip(bindP, p2pPNC1fit), '#2a2a78', 1.3), dotted(zip(bindP, p2pPNC1raw), '#333333'),
    ln(pairs(p2pPNC1c1), '#4040b0'), ln(pairs(p2pPNC1c2), '#b03030'), ln(pairs(p2pPNC1hump), '#3a9a4a'), ln(pairs(p2pPNC1base), '#40a040')
  ],
  texts: [
    {text: 'd', x: 25, y: 196},
    {text: 'P 2p', x: 41.5, y: 199},
    {text: 'FeP@PC', x: 248, y: 200, align: 'right'},
    {text: 'FeP@PNC-2', x: 22, y: 222.5},
    {text: 'FeP@PNC-3', x: 22, y: 254.5},
    {text: 'FeP@PNC', x: 22, y: 291},
    {text: 'FeP@PNC-1', x: 22, y: 311}
  ]
});

// ---------- panel e ----------
panel('ce', {left: 250, top: 183, w: 268, h: 183}, {left: 276, top: 190, right: 506, bottom: 329}, {
  xMin: 700.2, xMax: 725.6, reverse: true, xTicks: feTicks,
  xTitle: '结合能/eV', xTitlePad: 1.6, xTickPad: 4.8,
  yTitle: '强度', yTitlePad: 0.6, arrow: true,
  datasets: [
    ln(zip(bindFe, fe2pPC), '#3b2d85'), ln(zip(bindFe, fe2pFe3C), '#2f8a3f'),
    ln(zip(bindFe, fe2pPNC2), '#c354aa', 1.2, {tension: 0.3}), ln(zip(bindFe, fe2pPNC3), '#3a3aa2', 1.2, {tension: 0.3}),
    ln(zip(bindFe, fe2pPNC), '#ee3322', 1.2, {tension: 0.3}), ln(zip(bindFe, fe2pPNC1), '#111111', 1.2, {tension: 0.3})
  ],
  texts: [
    {text: 'e', x: 279, y: 190},
    {text: 'Fe 2p', x: 298, y: 199},
    {text: 'FeP@PC', x: 506, y: 199, align: 'right'},
    {text: 'Fe_{3}C@NC', x: 279, y: 216},
    {text: 'FeP@PNC-2', x: 279, y: 242.5},
    {text: 'FeP@PNC-3', x: 277, y: 273.5},
    {text: 'FeP@PNC', x: 277, y: 294.3},
    {text: 'FeP@PNC-1', x: 277, y: 312}
  ]
});

// ---------- panel f ----------
panel('cf', {left: 520, top: 183, w: 280, h: 183}, {left: 556, top: 190, right: 785, bottom: 329}, {
  xMin: 394.9, xMax: 405, reverse: true, xTicks: nTicks,
  xTitle: '结合能/eV', xTitlePad: 1.6, xTickPad: 4.8,
  yTitle: '强度', yTitlePad: 10.6, arrow: true,
  datasets: [
    ln(zip(bindN, n1sFe3C), '#5050b0', 1),
    ln(pairs(n1sFe3Cc1), '#a0504a'), ln(pairs(n1sFe3Cc2), '#a0a030'), ln(pairs(n1sFe3Cbase), '#40a060'),
    ln(zip(bindN, n1sPNC2), '#303080', 1.1),
    ln(pairs(n1sPNC2c1), '#d050c0'), ln(pairs(n1sPNC2c2), '#202020'), ln(pairs(n1sPNC2c3), '#e03030'), ln(pairs(n1sPNC2base), '#30a090'),
    ln(zip(bindN, n1sPNC3), '#30a8c0', 1.1),
    ln(pairs(n1sPNC3c1), '#5030a0'), ln(pairs(n1sPNC3c2), '#906050'), ln(pairs(n1sPNC3c3), '#8a8a8a'), ln(pairs(n1sPNC3c4), '#a0b030'), ln(pairs(n1sPNC3base), '#40a050'),
    ln(zip(bindN, n1sPNC), '#111111', 1),
    ln(pairs(n1sPNCc1), '#e03020'), ln(pairs(n1sPNCc2), '#c050b0'), ln(pairs(n1sPNCc3), '#40a040'), ln(pairs(n1sPNCbase), '#5050b0'),
    ln(zip(bindN, n1sPNC1), '#a0307a', 1.1),
    ln(pairs(n1sPNC1c1), '#4a7ac0'), ln(pairs(n1sPNC1c2), '#b07030'), ln(pairs(n1sPNC1c3), '#905040'), ln(pairs(n1sPNC1base), '#40a040')
  ],
  texts: [
    {text: 'f', x: 561, y: 193},
    {text: 'N 1s', x: 583, y: 200},
    {text: 'Fe_{3}C@NC', x: 786, y: 199, align: 'right'},
    {text: 'FeP@PNC-2', x: 786, y: 221.5, align: 'right'},
    {text: 'FeP@PNC-3', x: 786, y: 251.5, align: 'right'},
    {text: 'FeP@PNC', x: 785, y: 283, align: 'right'},
    {text: 'FeP@PNC-1', x: 786, y: 308, align: 'right'}
  ]
});
</script>
</body>
</html>
